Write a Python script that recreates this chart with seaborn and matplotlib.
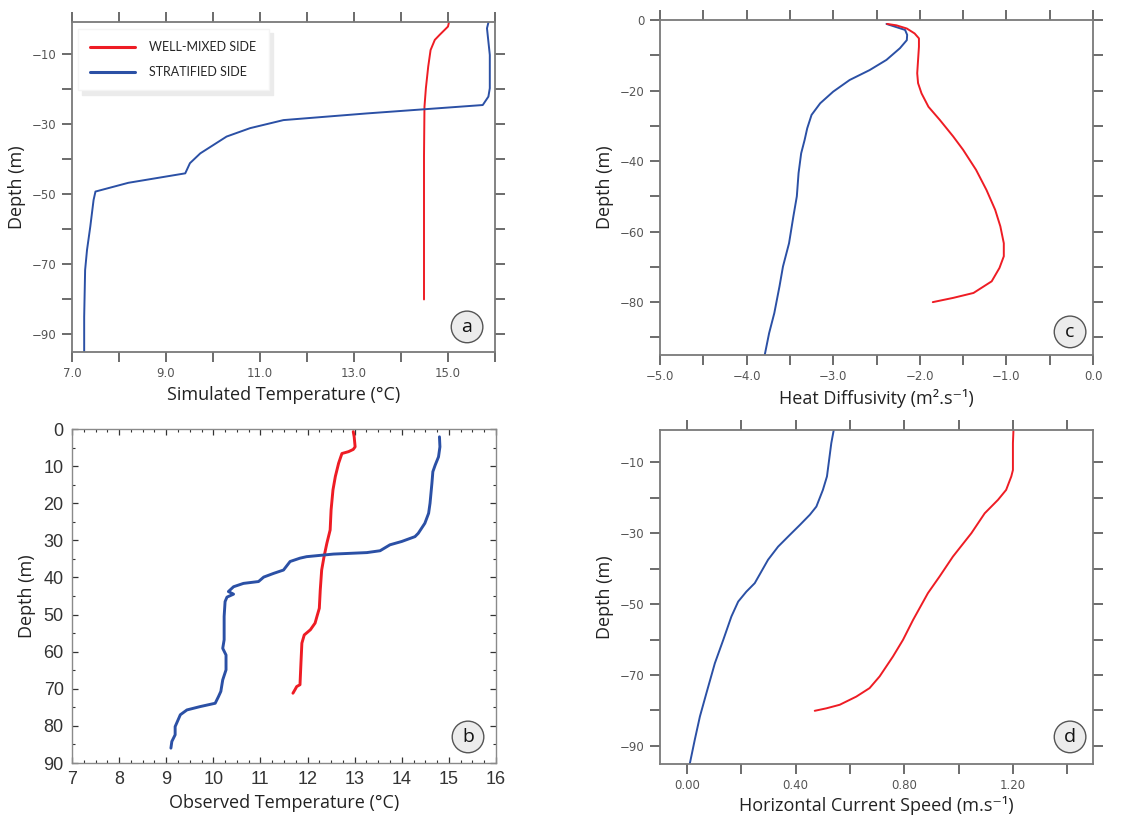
import matplotlib
matplotlib.use("Agg")
import matplotlib.pyplot as plt
from matplotlib.ticker import MultipleLocator
import seaborn as sns

sns.set_theme(style="ticks")
plt.rcParams["font.family"] = ["Open Sans", "DejaVu Sans"]

RED = "#ee1c24"
BLUE = "#2b50a5"

# (a) simulated temperature (degC) vs depth (m)
sim_strat_temp = [15.86, 15.83, 15.89, 15.89, 15.86, 15.74, 13.27, 11.5, 10.79, 10.29, 9.73,
                  9.51, 9.41, 8.2, 7.5, 7.46, 7.39, 7.32, 7.28, 7.26, 7.26]
sim_strat_depth = [-0.95, -2.6, -10.2, -19.7, -22.1, -24.5, -26.9, -28.8, -31.1, -33.5, -38.3,
                   -41.1, -44.0, -46.7, -49.2, -51.6, -59.2, -65.9, -71.6, -85.0, -95.0]
sim_mixed_temp = [15.02, 15.0, 14.82, 14.72, 14.63, 14.58, 14.53, 14.5, 14.49, 14.49]
sim_mixed_depth = [-0.95, -2.1, -4.5, -5.9, -8.8, -13.5, -19.7, -25.0, -39.2, -80.0]

# (b) observed temperature (degC) vs depth (m)
obs_mixed_temp = [12.97, 12.99, 13.01, 12.97, 12.87, 12.73, 12.66, 12.59, 12.54, 12.50, 12.48,
                  12.41, 12.35, 12.30, 12.27, 12.25, 12.20, 12.16, 12.06, 11.93, 11.88, 11.86,
                  11.84, 11.77, 11.74, 11.69]
obs_mixed_depth = [0.7, 2.1, 4.8, 5.5, 6.1, 6.6, 9.2, 12.8, 16.4, 21.8, 27.2, 30.8, 34.4, 38.0,
                   43.4, 48.3, 50.5, 52.3, 54.1, 55.5, 57.7, 63.1, 68.9, 69.4, 70.1, 71.2]
obs_strat_temp = [14.80, 14.81, 14.78, 14.71, 14.66, 14.64, 14.60, 14.57, 14.49, 14.35, 14.28,
                  14.0, 13.75, 13.54, 13.26, 12.55, 11.98, 11.84, 11.63, 11.49, 11.28, 11.07,
                  10.96, 10.64, 10.43, 10.32, 10.43, 10.29, 10.25, 10.23, 10.23, 10.20, 10.27,
                  10.27, 10.20, 10.16, 10.11, 10.04, 9.72, 9.44, 9.30, 9.19, 9.19, 9.12, 9.10]
obs_strat_depth = [2.1, 4.8, 7.5, 9.7, 11.5, 14.6, 20.0, 22.7, 25.4, 28.1, 29.0, 30.3, 31.2,
                   32.8, 33.3, 33.7, 34.4, 34.8, 35.7, 38.0, 38.9, 39.9, 41.1, 41.6, 42.5, 43.8,
                   44.5, 45.3, 46.5, 50.5, 56.8, 59.1, 60.9, 64.9, 67.6, 70.7, 72.1, 73.9, 74.8,
                   75.7, 77.0, 80.2, 82.4, 84.2, 86.0]

# (c) heat diffusivity (log10 m2/s) vs depth (m)
diff_strat = [-2.385, -2.17, -2.146, -2.15, -2.23, -2.385, -2.58, -2.81, -3.0, -3.15, -3.25,
              -3.3, -3.33, -3.37, -3.40, -3.42, -3.46, -3.51, -3.58, -3.62, -3.68, -3.74, -3.79]
diff_strat_depth = [-1.1, -2.8, -4.2, -5.7, -8.0, -11.3, -14.2, -17.0, -20.3, -23.6, -26.9,
                    -30.7, -34.0, -37.8, -43.4, -50.0, -55.7, -63.3, -69.9, -75.5, -83.1, -88.8,
                    -94.9]
diff_mixed = [-2.377, -2.27, -2.15, -2.06, -2.01, -2.01, -2.02, -2.03, -2.02, -1.98, -1.90,
              -1.77, -1.615, -1.5, -1.35, -1.23, -1.13, -1.07, -1.03, -1.03, -1.08, -1.17,
              -1.38, -1.615, -1.85]
diff_mixed_depth = [-1.1, -1.5, -2.4, -3.8, -5.2, -7.6, -11.3, -15.1, -17.9, -20.8, -24.6,
                    -28.3, -33.0, -36.8, -42.5, -48.2, -53.8, -58.5, -63.3, -67.0, -70.3, -74.1,
                    -77.4, -78.8, -80.0]

# (d) horizontal current speed (m/s) vs depth (m)
speed_strat = [0.54, 0.531, 0.523, 0.515, 0.50, 0.476, 0.452, 0.415, 0.378, 0.335, 0.298,
               0.249, 0.218, 0.188, 0.163, 0.133, 0.102, 0.071, 0.047, 0.028, 0.0098]
speed_strat_depth = [-0.9, -4.6, -9.3, -14.0, -17.8, -22.5, -24.8, -27.7, -30.5, -33.8, -37.5,
                     -44.1, -46.5, -49.3, -53.5, -60.1, -66.7, -75.1, -81.7, -88.3, -95.0]
speed_mixed = [1.202, 1.2, 1.2, 1.194, 1.175, 1.145, 1.096, 1.047, 0.979, 0.930, 0.887, 0.832,
               0.795, 0.758, 0.709, 0.672, 0.623, 0.562, 0.513, 0.470]
speed_mixed_depth = [-0.9, -4.6, -12.2, -14.0, -17.8, -20.6, -24.4, -30.0, -36.6, -42.2, -46.9,
                     -54.5, -60.1, -64.8, -70.4, -73.7, -76.1, -78.4, -79.4, -80.1]

fig = plt.figure(figsize=(11.35, 8.15), dpi=100)
ax_a = fig.add_axes([0.0634, 0.5681, 0.3727, 0.4049])
ax_c = fig.add_axes([0.5815, 0.5644, 0.3815, 0.4110])
ax_b = fig.add_axes([0.0634, 0.0638, 0.3736, 0.4098])
ax_d = fig.add_axes([0.5815, 0.0626, 0.3815, 0.4098])

label_font = dict(fontsize=13, color="#222222")
tick_font = ["Liberation Sans Narrow", "DejaVu Sans"]


def model_style(ax, xlim, ylim, xstep, ystep, xlabel_fn, ylabel_fn):
    for s in ax.spines.values():
        s.set_color("#7a7a7a")
        s.set_linewidth(1.3)
    ax.xaxis.set_major_locator(MultipleLocator(xstep))
    ax.yaxis.set_major_locator(MultipleLocator(ystep))
    ax.set_xlim(*xlim)
    ax.set_ylim(*ylim)
    ax.tick_params(which="major", direction="out", length=7, width=1.1, color="#444444",
                   top=True, right=True, labelsize=8.5, labelcolor="#555555", pad=4)
    xt = [v for v in ax.get_xticks() if xlim[0] - 1e-9 <= v <= xlim[1] + 1e-9]
    yt = [v for v in ax.get_yticks() if ylim[0] - 1e-9 <= v <= ylim[1] + 1e-9]
    ax.set_xticks(xt)
    ax.set_xticklabels([xlabel_fn(v).replace("-", "\u2212") for v in xt], family=tick_font)
    ax.set_yticks(yt)
    ax.set_yticklabels([ylabel_fn(v).replace("-", "\u2212") for v in yt], family=tick_font)
    ax.set_xlim(*xlim)
    ax.set_ylim(*ylim)


def every(step, fmt, offset=0.0):
    def f(v):
        k = (v - offset) / step
        return fmt.format(v) if abs(k - round(k)) < 1e-6 else ""
    return f


def panel_tag(ax, letter, x, y):
    ax.text(x, y, letter, transform=ax.transAxes, ha="center", va="center", fontsize=14,
            color="#111111",
            bbox=dict(boxstyle="circle,pad=0.35", fc="#ececec", ec="#555555", lw=1.0))


# (a)
sns.lineplot(x=sim_mixed_temp, y=sim_mixed_depth, sort=False, estimator=None, color=RED,
             lw=1.4, ax=ax_a, label="WELL-MIXED SIDE")
sns.lineplot(x=sim_strat_temp, y=sim_strat_depth, sort=False, estimator=None, color=BLUE,
             lw=1.4, ax=ax_a, label="STRATIFIED SIDE")
model_style(ax_a, (7, 16), (-95, -0.8), 1, 10,
            every(2, "{:.1f}", 1), every(20, "{:.0f}", 10))
ax_a.set_xlabel("Simulated Temperature (°C)", labelpad=4, **label_font)
ax_a.set_ylabel("Depth (m)", labelpad=4, **label_font)
leg = ax_a.legend(loc="upper left", bbox_to_anchor=(0.014, 0.979), borderaxespad=0,
                  frameon=True, fancybox=False,
                  shadow={"color": "0.92", "ox": 3, "oy": -3, "alpha": 1},
                  handlelength=3.6, handletextpad=1.1, borderpad=1.0, labelspacing=1.0,
                  prop={"family": ["Lato", "DejaVu Sans"], "size": 9})
leg.get_frame().set_edgecolor("#f4f4f4")
leg.get_frame().set_linewidth(1.0)
for h in leg.get_lines():
    h.set_linewidth(2.2)
panel_tag(ax_a, "a", 0.934, 0.076)

# (c)
sns.lineplot(x=diff_strat, y=diff_strat_depth, sort=False, estimator=None, color=BLUE,
             lw=1.4, ax=ax_c)
sns.lineplot(x=diff_mixed, y=diff_mixed_depth, sort=False, estimator=None, color=RED,
             lw=1.4, ax=ax_c)
model_style(ax_c, (-5, 0), (-95, 0), 0.5, 10,
            every(1.0, "{:.1f}"), every(20, "{:.0f}"))
ax_c.set_xlabel("Heat Diffusivity (m².s⁻¹)", labelpad=4, **label_font)
ax_c.set_ylabel("Depth (m)", labelpad=4, **label_font)
panel_tag(ax_c, "c", 0.947, 0.069)

# (d)
sns.lineplot(x=speed_strat, y=speed_strat_depth, sort=False, estimator=None, color=BLUE,
             lw=1.4, ax=ax_d)
sns.lineplot(x=speed_mixed, y=speed_mixed_depth, sort=False, estimator=None, color=RED,
             lw=1.4, ax=ax_d)
model_style(ax_d, (-0.1, 1.495), (-95.1, -0.9), 0.2, 10,
            every(0.4, "{:.2f}"), every(20, "{:.0f}", 10))
ax_d.set_xlabel("Horizontal Current Speed (m.s⁻¹)", labelpad=3, **label_font)
ax_d.set_ylabel("Depth (m)", labelpad=4, **label_font)
panel_tag(ax_d, "d", 0.947, 0.081)

# (b) observed profiles, MATLAB-like box
sns.lineplot(x=obs_mixed_temp, y=obs_mixed_depth, sort=False, estimator=None, color=RED,
             lw=2.1, ax=ax_b)
sns.lineplot(x=obs_strat_temp, y=obs_strat_depth, sort=False, estimator=None, color=BLUE,
             lw=2.1, ax=ax_b)
ax_b.set_xlim(7, 16)
ax_b.set_ylim(90, 0)
ax_b.xaxis.set_major_locator(MultipleLocator(1))
ax_b.xaxis.set_minor_locator(MultipleLocator(0.25))
ax_b.yaxis.set_major_locator(MultipleLocator(10))
ax_b.yaxis.set_minor_locator(MultipleLocator(5))
for s in ax_b.spines.values():
    s.set_color("#8a8a8a")
    s.set_linewidth(1.0)
ax_b.tick_params(which="both", direction="in", top=True, right=True, color="#333333",
                 labelsize=13, labelcolor="#333333")
ax_b.tick_params(which="major", length=4, width=0.9, pad=6)
ax_b.tick_params(which="minor", length=2.5, width=0.8)
for t in ax_b.get_xticklabels() + ax_b.get_yticklabels():
    t.set_family(["Liberation Sans", "DejaVu Sans"])
ax_b.set_xlabel("Observed Temperature (°C)", labelpad=4, **label_font)
ax_b.set_ylabel("Depth (m)", labelpad=5, **label_font)
panel_tag(ax_b, "b", 0.934, 0.078)

fig.savefig("out.png", dpi=100)
